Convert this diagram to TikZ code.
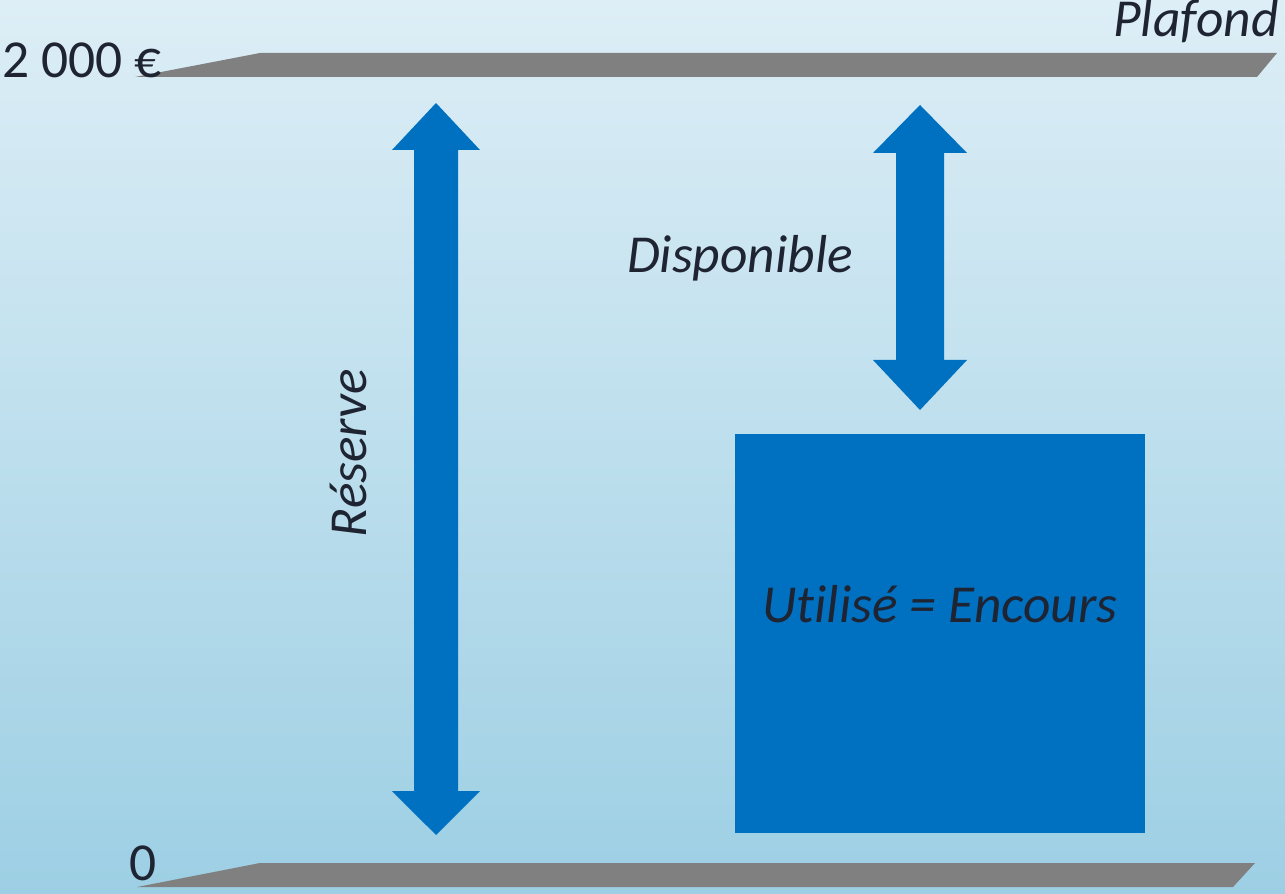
\documentclass[tikz,border=0pt]{standalone}
\usepackage{fontspec}
\usepackage{tikz}
\usepackage{tkz-euclide}
\usepackage{xcolor}
\setmainfont{Carlito}[Ligatures=NoCommon]
\definecolor{skytop}{HTML}{DDEEF6}
\definecolor{skybottom}{HTML}{9DCFE4}
\definecolor{plank}{HTML}{808080}
\definecolor{bleu}{HTML}{0070C0}
\definecolor{encre}{HTML}{1F2433}
\tikzset{
  label/.style={inner sep=0pt,text=encre,font=\fontsize{30.4}{36}\selectfont},
  labelit/.style={label,font=\fontsize{30.4}{36}\selectfont\itshape}
}
\begin{document}
\begin{tikzpicture}
	\tkzDefPoints{0/0/O,25.7/17.86/Z}
	\useasboundingbox (O) rectangle (Z);
	\shade[top color=skytop,bottom color=skybottom] (O) rectangle (Z);
	\tkzDefPoints{2.70/16.32/H1,5.20/16.80/H2,25.54/16.80/H3,25.14/16.32/H4}
	\tkzDefPoints{2.74/0.12/B1,5.20/0.60/B2,25.10/0.60/B3,24.66/0.12/B4}
	\tkzFillPolygon[color=plank](H1,H2,H3,H4)
	\tkzFillPolygon[color=plank](B1,B2,B3,B4)
	\tkzDefPoints{8.72/15.80/R1,9.60/14.86/R2,9.16/14.86/R3,9.16/2.04/R4,9.60/2.04/R5,
	  8.72/1.16/R6,7.84/2.04/R7,8.28/2.04/R8,8.28/14.86/R9,7.84/14.86/R10}
	\tkzFillPolygon[color=bleu](R1,R2,R3,R4,R5,R6,R7,R8,R9,R10)
	\tkzDefPoints{18.40/15.76/D1,19.34/14.80/D2,18.88/14.80/D3,18.88/10.66/D4,19.34/10.66/D5,
	  18.40/9.66/D6,17.46/10.66/D7,17.92/10.66/D8,17.92/14.80/D9,17.46/14.80/D10}
	\tkzFillPolygon[color=bleu](D1,D2,D3,D4,D5,D6,D7,D8,D9,D10)
	\tkzDefPoints{14.70/9.18/U1,22.90/1.20/U2}
	\fill[bleu] (U1) rectangle (U2);
	\node[label,anchor=base west] (plafondval) at (0.04,16.30) {2 000 €};
	\node[label,anchor=base] (zero) at (2.86,0.26) {0};
	\node[labelit,anchor=base east] (plafond) at (25.58,17.12) {Plafond};
	\node[labelit,anchor=base] (dispo) at (14.80,12.40) {Disponible};
	\node[labelit,anchor=base,rotate=90] (reserve) at (7.32,8.80) {Réserve};
	\node[labelit,anchor=base] (encours) at (18.80,5.42) {Utilisé = Encours};
\end{tikzpicture}
\end{document}
